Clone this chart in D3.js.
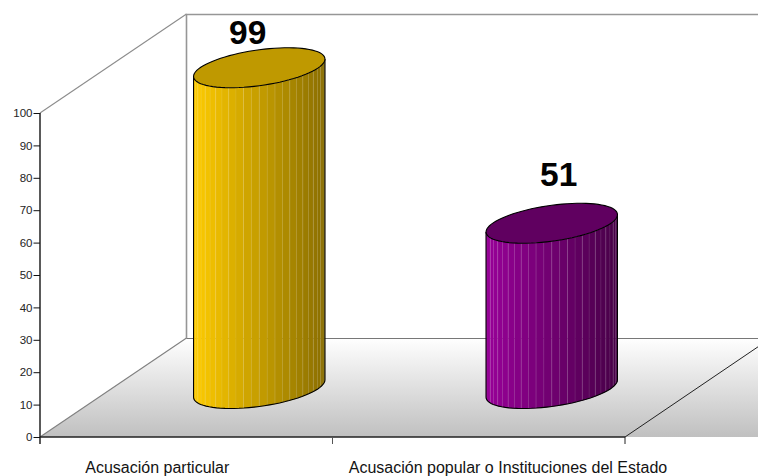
<!DOCTYPE html>
<html><head><meta charset="utf-8">
<style>html,body{margin:0;padding:0;background:#fff}svg{display:block}text{font-family:"Liberation Sans",Arial,sans-serif;opacity:.99}</style>
<script src="https://cdnjs.cloudflare.com/ajax/libs/d3/7.8.5/d3.min.js"></script>
</head><body><div id="c"></div>
<script>
const categories = ["Acusación particular", "Acusación popular o Instituciones del Estado"];
const values = [99, 51];
const yTicks = [0,10,20,30,40,50,60,70,80,90,100];
const bodyColors = [["#ffcc00","#8a6e00"],["#990099","#470047"]];
const topColors = ["#bf9900","#600060"];

const W=758,H=476;
const svg=d3.select("#c").append("svg").attr("width",W).attr("height",H);
const defs=svg.append("defs");
const x=d3.scaleBand().domain(categories).range([40,625]);
const y=d3.scaleLinear().domain([0,100]).range([437,113]);
const depth={x:146,y:-99};
const y0=y(0),x0=x.range()[0],x1=x.range()[1];

const fg=defs.append("linearGradient").attr("id","floor").attr("x1",0).attr("x2",0).attr("y1",0).attr("y2",1);
fg.append("stop").attr("offset",0).attr("stop-color","#ffffff");
fg.append("stop").attr("offset",1).attr("stop-color","#c0c0c0");
svg.append("path").attr("fill","url(#floor)")
  .attr("d",`M${x0},${y0}L${x0+depth.x},${y0+depth.y}L${W},${y0+depth.y}L${W},${y0}Z`);

const wall="#969696";
const bx=x0+depth.x+.5;
svg.append("path").attr("fill","none").attr("stroke","#8c8c8c").attr("stroke-width",1.1)
  .attr("d",`M${x0},${y(100)}L${bx},${y(100)+depth.y}`);
svg.append("path").attr("fill","none").attr("stroke","#808080").attr("stroke-width",1.1)
  .attr("d",`M${x0},${y0}L${bx},${y0+depth.y}`);
svg.append("line").attr("x1",bx).attr("x2",bx).attr("y1",y(100)+depth.y).attr("y2",y0+depth.y+.5).attr("stroke",wall).attr("stroke-width",1.6);
svg.append("line").attr("x1",bx-1).attr("x2",W).attr("y1",y(100)+depth.y+.5).attr("y2",y(100)+depth.y+.5).attr("stroke",wall).attr("stroke-width",1.6);
svg.append("line").attr("x1",bx).attr("x2",W).attr("y1",y0+depth.y+.5).attr("y2",y0+depth.y+.5).attr("stroke","#777").attr("stroke-width",1);
svg.append("line").attr("x1",x1).attr("y1",y0).attr("x2",W).attr("y2",y0-(W-x1)*99/146).attr("stroke","#222");

const rx=65.7, shear=8.7, ry=18;
const N=26;
const pt=(cx,cy,t)=>[cx+rx*Math.cos(t), cy-shear*Math.cos(t)+ry*Math.sin(t)];
categories.forEach((c,i)=>{
  const cx=x(c)+x.bandwidth()/2+depth.x/2, base=y(0)+depth.y/2+1, top=y(values[i])+depth.y/2+1;
  const g=svg.append("g");
  const col=d3.scaleLinear().domain([cx-rx,cx+rx]).range(bodyColors[i]);
  const ts=d3.range(N+1).map(k=>Math.PI-k*Math.PI/N);
  d3.pairs(ts).forEach(([a,b],k)=>{
    const pa=pt(cx,base,a),pb=pt(cx,base,b),ta=pt(cx,top,a),tb=pt(cx,top,b);
    const s=d3.range(0,1.01,0.25).map(u=>pt(cx,base,a+(b-a)*u));
    const f=col((pa[0]+pb[0])/2);
    g.append("path").attr("fill",f).attr("stroke",f).attr("stroke-width",.3)
      .attr("d",`M${ta}L${pa}`+s.map(p=>`L${p}`).join("")+`L${tb}Z`);
    if(k>2){
      g.append("line").attr("x1",pa[0]).attr("x2",pa[0]).attr("y1",ta[1]).attr("y2",pa[1])
       .attr("stroke","#fff").attr("stroke-opacity",k%2?.2:.1).attr("stroke-width",.8);
    }
  });
  const front=d3.range(0,41).map(k=>pt(cx,base,Math.PI-k*Math.PI/40));
  g.append("path").attr("fill","none").attr("stroke","#000").attr("stroke-width",1.1)
    .attr("d",`M${pt(cx,top,Math.PI)}`+front.map(p=>`L${p}`).join("")+`L${pt(cx,top,0)}`);
  const cap=d3.range(0,81).map(k=>pt(cx,top,k*2*Math.PI/80));
  g.append("path").attr("fill",topColors[i]).attr("stroke","#000").attr("stroke-width",1.1)
    .attr("d",d3.line()(cap)+"Z");
  svg.append("text").attr("x",cx-(i?-7:11.5)).attr("y",top+(i?-37:-24)).attr("text-anchor","middle")
    .attr("font-size",33.5).attr("font-weight","bold").attr("fill","#000").text(values[i]);
});

const ax=svg.append("g").attr("transform",`translate(${x0},0)`).call(d3.axisLeft(y).tickValues(yTicks).tickSize(6.5).tickPadding(1));
ax.select(".domain").attr("stroke","#000").attr("stroke-width",1.3).attr("d",`M0,${y(100)}V${y0+7}`);
ax.selectAll("line").attr("stroke","#111");
ax.selectAll("text").attr("font-size",11.5).attr("fill","#222").style("font-family",'"Liberation Sans",Arial,sans-serif');

svg.append("line").attr("x1",x0).attr("x2",x1).attr("y1",y0).attr("y2",y0).attr("stroke","#222").attr("stroke-width",1.5);
[x0+x.bandwidth(),x1].forEach((t,i)=>{
  svg.append("line").attr("x1",t).attr("x2",t).attr("y1",y0).attr("y2",y0+7).attr("stroke",i==0?"#555":"#222");
});
const lx=[-101,-130];
categories.forEach((c,i)=>{
  svg.append("text").attr("x",x(c)+x.bandwidth()/2+lx[i]).attr("y",y0+36).attr("text-anchor","start")
    .attr("font-size",16).attr("fill","#111").text(c);
});
</script></body></html>
